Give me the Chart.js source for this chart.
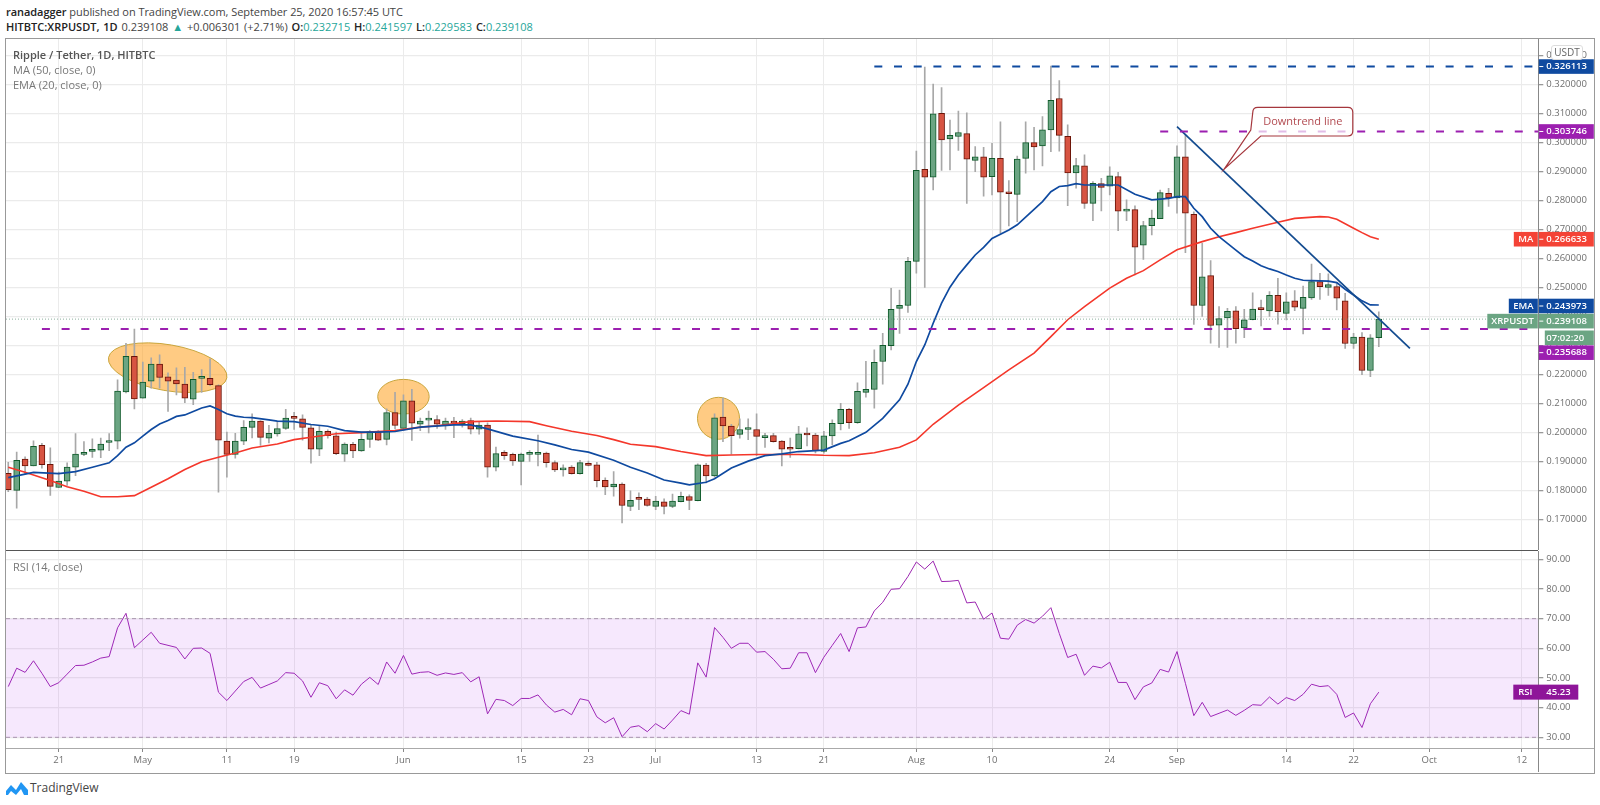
<!DOCTYPE html>
<html>
<head>
<meta charset="utf-8">
<title>XRPUSDT</title>
<script src="https://cdn.jsdelivr.net/npm/chart.js@4/dist/chart.umd.min.js"></script>
<style>
  html, body { margin: 0; padding: 0; background: #fff; width: 1600px; height: 805px; overflow: hidden; font-family: "Open Sans", sans-serif; }
  .abs { position: absolute; white-space: nowrap; }
  canvas { position: absolute; left: 6px; }
  #head1 { left: 6px; top: 3px; font-size: 11px; line-height: 17px; color: #444; letter-spacing: -0.05px; }
  #head2 { left: 6px; top: 18px; font-size: 11px; line-height: 17px; color: #444; word-spacing: 1px; }
  #head1 b, #head2 b { color: #222; font-weight: 600; }
  .teal { color: #26a69a; }
  .legend { left: 13px; font-size: 11px; line-height: 15px; color: #777; }
  #frame { left: 5px; top: 38px; width: 1588px; height: 734px; border: 1px solid #999; pointer-events: none; }
  #divider { left: 6px; top: 550px; width: 1532px; height: 1px; background: #555; }
  #timeline { left: 6px; top: 748px; width: 1588px; height: 1px; background: #aaa; }
  #timeaxis { left: 1538px; top: 748px; width: 1px; height: 24px; background: #888; }
  #unit { left: 1551px; top: 45px; width: 30px; height: 13px; line-height: 13px; text-align: center; background: #fff; border: 1px solid #ddd; border-radius: 3px; font-size: 10px; color: #666; }
  #brand { left: 30px; top: 780px; font-size: 12px; line-height: 16px; color: #444; }
</style>
</head>
<body>
<div class="abs" id="head1"><b>ranadagger</b> published on TradingView.com, September 25, 2020 16:57:45 UTC</div>
<div class="abs" id="head2"><b>HITBTC:XRPUSDT, 1D</b> 0.239108 <span class="teal">▲</span> +0.006301 (+2.71%) <b>O:</b><span class="teal">0.232715</span> <b>H:</b><span class="teal">0.241597</span> <b>L:</b><span class="teal">0.229583</span> <b>C:</b><span class="teal">0.239108</span></div>

<canvas id="priceChart" width="1588" height="511" style="top:39px"></canvas>
<canvas id="rsiChart" width="1588" height="221" style="top:551px"></canvas>

<div class="abs" id="frame"></div>
<div class="abs" id="divider"></div>
<div class="abs" id="timeline"></div>
<div class="abs" id="timeaxis"></div>
<div class="abs" id="unit">USDT</div>
<div class="abs legend" style="top:47px;color:#555;font-weight:600">Ripple / Tether, 1D, HITBTC</div>
<div class="abs legend" style="top:62px">MA (50, close, 0)</div>
<div class="abs legend" style="top:77px">EMA (20, close, 0)</div>
<div class="abs legend" style="top:559px">RSI (14, close)</div>
<svg class="abs" style="left:6px;top:781px" width="23" height="15" viewBox="0 0 23 15">
  <path d="M0 10 L5 4 L10 9 L15 1 L22 9 L22 14 L18 14 L15 8 L10 14 L5 10 L2 14 L0 14 Z" fill="#2196f3"/>
</svg>
<div class="abs" id="brand">TradingView</div>

<script>
// day numbers: 0 is Apr 15, one step per daily candle
const xTickDays = [6, 16, 26, 34, 47, 61, 69, 77, 89, 97, 108, 117, 131, 139, 152, 160, 169, 180];
const xTickLabels = ["21", "May", "11", "19", "Jun", "15", "23", "Jul", "13", "21", "Aug", "10", "24", "Sep", "14", "22", "Oct", "12"];

const opens = [
  0.1860,0.1801,0.1909,0.1885,0.1956,0.1891,0.1811,0.1833,0.1881,0.1925,
  0.1935,0.1940,0.1966,0.1971,0.2140,0.2263,0.2119,0.2177,0.2236,0.2192,
  0.2181,0.2167,0.2115,0.2187,0.2187,0.2162,0.1971,0.1925,0.1971,0.2018,
  0.2040,0.1981,0.1996,0.2015,0.2051,0.2048,0.2017,0.1943,0.2005,0.1989,
  0.1926,0.1960,0.1937,0.1977,0.2004,0.1977,0.2069,0.2015,0.2110,0.2029,
  0.2043,0.2045,0.2027,0.2036,0.2031,0.2042,0.2012,0.2026,0.1881,0.1932,
  0.1925,0.1901,0.1925,0.1925,0.1930,0.1897,0.1872,0.1881,0.1859,0.1894,
  0.1889,0.1836,0.1813,0.1823,0.1746,0.1772,0.1771,0.1746,0.1762,0.1746,
  0.1762,0.1780,0.1766,0.1888,0.1851,0.2054,0.2023,0.1994,0.2011,0.2011,
  0.1983,0.1990,0.1971,0.1946,0.1945,0.1994,0.1992,0.1935,0.1989,0.2031,
  0.2080,0.2034,0.2139,0.2149,0.2245,0.2300,0.2428,0.2438,0.2590,0.2907,
  0.2880,0.3100,0.3012,0.3020,0.3030,0.2938,0.2950,0.2882,0.2945,0.2828,
  0.2821,0.2945,0.2999,0.2988,0.3043,0.3151,0.3021,0.2895,0.2919,0.2790,
  0.2858,0.2849,0.2882,0.2763,0.2768,0.2646,0.2713,0.2737,0.2824,0.2809,
  0.2950,0.2752,0.2438,0.2541,0.2370,0.2395,0.2420,0.2361,0.2389,0.2426,
  0.2419,0.2473,0.2411,0.2454,0.2428,0.2464,0.2520,0.2500,0.2503,0.2454,
  0.2307,0.2329,0.2214,0.232715
];
const highs = [
  0.1898,0.1933,0.1917,0.1972,0.1963,0.1948,0.1864,0.1896,0.1997,0.1969,
  0.1979,0.1981,0.1997,0.2182,0.2308,0.2357,0.2243,0.2258,0.2268,0.2206,
  0.2223,0.2225,0.2208,0.2217,0.2254,0.2165,0.2002,0.1998,0.2042,0.2065,
  0.2042,0.2025,0.2038,0.2080,0.2070,0.2061,0.2027,0.2025,0.2010,0.2002,
  0.1965,0.1967,0.2002,0.2007,0.2007,0.2082,0.2139,0.2130,0.2149,0.2050,
  0.2074,0.2059,0.2050,0.2053,0.2045,0.2050,0.2038,0.2034,0.1950,0.1938,
  0.1930,0.1930,0.1938,0.1992,0.1933,0.1903,0.1889,0.1887,0.1905,0.1902,
  0.1898,0.1844,0.1866,0.1827,0.1800,0.1793,0.1777,0.1781,0.1772,0.1788,
  0.1795,0.1786,0.1893,0.1894,0.2065,0.2119,0.2029,0.2048,0.2048,0.2065,
  0.1998,0.1998,0.1973,0.1981,0.2022,0.2017,0.1998,0.2005,0.2044,0.2101,
  0.2084,0.2172,0.2246,0.2285,0.2342,0.2497,0.2491,0.2604,0.2970,0.3259,
  0.3201,0.3189,0.3077,0.3108,0.3102,0.2985,0.2983,0.2997,0.3071,0.2868,
  0.2953,0.3071,0.3052,0.3089,0.3263,0.3213,0.3060,0.2945,0.2957,0.2865,
  0.2876,0.2916,0.2897,0.2802,0.2781,0.2728,0.2767,0.2836,0.2842,0.2988,
  0.3025,0.2761,0.2652,0.2593,0.2434,0.2428,0.2434,0.2425,0.2482,0.2457,
  0.2486,0.2532,0.2482,0.2489,0.2505,0.2581,0.2549,0.2547,0.2517,0.2480,
  0.2342,0.2345,0.2338,0.241597
];
const lows = [
  0.1797,0.1740,0.1858,0.1885,0.1878,0.1784,0.1811,0.1818,0.1852,0.1921,
  0.1915,0.1914,0.1938,0.1944,0.2137,0.2082,0.2119,0.2153,0.2153,0.2073,
  0.2130,0.2103,0.2096,0.2139,0.2162,0.1795,0.1847,0.1912,0.1959,0.1982,
  0.1956,0.1965,0.1988,0.2011,0.2011,0.1974,0.1895,0.1921,0.1981,0.1924,
  0.1901,0.1914,0.1935,0.1949,0.1972,0.1958,0.2013,0.2015,0.1973,0.2007,
  0.1999,0.2015,0.2011,0.1983,0.2019,0.1996,0.1995,0.1847,0.1868,0.1908,
  0.1887,0.1820,0.1901,0.1885,0.1881,0.1866,0.1850,0.1857,0.1857,0.1885,
  0.1813,0.1786,0.1781,0.1689,0.1731,0.1735,0.1747,0.1735,0.1720,0.1742,
  0.1761,0.1735,0.1765,0.1827,0.1847,0.1969,0.1926,0.1981,0.1976,0.1921,
  0.1949,0.1967,0.1885,0.1915,0.1944,0.1954,0.1930,0.1929,0.1958,0.2009,
  0.2015,0.2032,0.2122,0.2084,0.2167,0.2285,0.2342,0.2414,0.2549,0.2500,
  0.2836,0.2903,0.2905,0.2972,0.2790,0.2899,0.2815,0.2819,0.2687,0.2712,
  0.2727,0.2894,0.2905,0.2919,0.2968,0.2970,0.2782,0.2842,0.2772,0.2730,
  0.2764,0.2819,0.2696,0.2730,0.2543,0.2597,0.2681,0.2737,0.2779,0.2756,
  0.2620,0.2373,0.2400,0.2308,0.2294,0.2294,0.2308,0.2327,0.2388,0.2368,
  0.2400,0.2374,0.2388,0.2420,0.2340,0.2459,0.2459,0.2473,0.2423,0.2290,
  0.2290,0.2200,0.2193,0.229583
];
const closes = [
  0.1804,0.1905,0.1885,0.1953,0.1890,0.1815,0.1833,0.1881,0.1926,0.1928,
  0.1943,0.1961,0.1971,0.2143,0.2263,0.2116,0.2174,0.2236,0.2190,0.2177,
  0.2168,0.2119,0.2184,0.2188,0.2165,0.1974,0.1925,0.1971,0.2018,0.2040,
  0.1984,0.1998,0.2014,0.2050,0.2049,0.2018,0.1943,0.2005,0.1990,0.1928,
  0.1961,0.1937,0.1977,0.2004,0.1974,0.2069,0.2025,0.2110,0.2033,0.2040,
  0.2045,0.2029,0.2040,0.2033,0.2040,0.2012,0.2026,0.1881,0.1928,0.1921,
  0.1903,0.1926,0.1926,0.1930,0.1897,0.1872,0.1878,0.1859,0.1897,0.1887,
  0.1835,0.1813,0.1823,0.1749,0.1767,0.1770,0.1749,0.1764,0.1746,0.1764,
  0.1781,0.1767,0.1889,0.1851,0.2051,0.2023,0.1990,0.2011,0.2012,0.1987,
  0.1990,0.1969,0.1943,0.1943,0.1996,0.1992,0.1938,0.1989,0.2032,0.2080,
  0.2034,0.2142,0.2149,0.2242,0.2301,0.2425,0.2439,0.2590,0.2904,0.2880,
  0.3098,0.3008,0.3024,0.3034,0.2942,0.2950,0.2880,0.2945,0.2828,0.2823,
  0.2942,0.2999,0.2984,0.3043,0.3145,0.3024,0.2895,0.2920,0.2790,0.2859,
  0.2845,0.2885,0.2763,0.2764,0.2639,0.2713,0.2739,0.2827,0.2809,0.2950,
  0.2756,0.2438,0.2537,0.2369,0.2393,0.2418,0.2358,0.2389,0.2426,0.2424,
  0.2473,0.2417,0.2451,0.2432,0.2466,0.2520,0.2503,0.2510,0.2463,0.2307,
  0.2329,0.2214,0.2327,0.239108
];

// moving averages read at the days where the curve bends
const emaDays = [0,3,6,8,10,12,13,14,15,16,17,18,19,20,21,22,23,24,25,26,27,28,29,31,32,34,36,38,40,42,44,46,49,53,55,57,60,63,65,67,69,72,74,76,78,80,81,83,84,86,88,90,92,94,97,99,100,102,104,106,107,108,109,110,111,112,113,114,115,116,117,119,120,122,123,124,125,126,127,128,130,132,134,136,138,139,140,141,142,143,144,145,146,147,148,149,150,151,152,153,154,155,157,158,159,160,161,162,163];
const emaValues = [0.1845,0.1863,0.1859,0.1866,0.1881,0.1896,0.1921,0.1950,0.1965,0.1988,0.2011,0.2030,0.2042,0.2056,0.2061,0.2073,0.2085,0.2092,0.2080,0.2065,0.2057,0.2053,0.2052,0.2044,0.2040,0.2038,0.2028,0.2022,0.2007,0.2002,0.2002,0.2004,0.2019,0.2027,0.2027,0.2013,0.1988,0.1972,0.1958,0.1942,0.1933,0.1905,0.1881,0.1861,0.1837,0.1826,0.1820,0.1829,0.1841,0.1878,0.1902,0.1921,0.1927,0.1935,0.1940,0.1963,0.1972,0.2001,0.2049,0.2113,0.2167,0.2245,0.2302,0.2377,0.2446,0.2501,0.2543,0.2578,0.2612,0.2638,0.2669,0.2698,0.2716,0.2769,0.2796,0.2830,0.2848,0.2851,0.2858,0.2853,0.2853,0.2853,0.2821,0.2802,0.2807,0.2813,0.2813,0.2773,0.2744,0.2704,0.2675,0.2652,0.2629,0.2606,0.2591,0.2575,0.2564,0.2555,0.2543,0.2532,0.2525,0.2524,0.2522,0.2517,0.2494,0.2474,0.2454,0.2440,0.243973];
const maDays = [0,2,5,7,9,11,13,15,17,19,21,23,25,27,29,32,34,36,39,42,46,49,51,55,58,62,64,67,70,72,74,77,80,83,86,89,94,97,100,103,106,108,110,113,116,119,122,124,126,128,131,133,135,137,139,142,144,146,148,151,153,156,157,158,160,161,162,163];
const maValues = [0.1881,0.1864,0.1835,0.1814,0.1798,0.1779,0.1779,0.1783,0.1812,0.1841,0.1873,0.1900,0.1915,0.1930,0.1947,0.1961,0.1976,0.1984,0.1996,0.2000,0.2007,0.2019,0.2024,0.2038,0.2040,0.2038,0.2024,0.2005,0.1990,0.1976,0.1960,0.1952,0.1935,0.1921,0.1923,0.1925,0.1925,0.1922,0.1921,0.1931,0.1950,0.1975,0.2029,0.2095,0.2155,0.2216,0.2274,0.2331,0.2389,0.2434,0.2498,0.2532,0.2558,0.2595,0.2630,0.2658,0.2675,0.2689,0.2704,0.2725,0.2738,0.2744,0.2743,0.2735,0.2704,0.2689,0.2675,0.266633];

const rsiValues = [
  47.1,53.3,51.9,55.8,51.6,47.1,48.4,51.3,54.2,54.3,
  55.4,56.7,57.2,66.9,71.8,60.2,62.8,65.4,61.7,61.0,
  60.3,56.4,60.0,60.1,58.3,45.2,42.4,45.6,48.8,50.2,
  46.6,47.8,49.0,51.8,51.6,49.0,43.5,48.4,47.4,43.0,
  46.0,44.2,47.9,50.2,47.8,55.4,51.6,57.6,51.3,51.9,
  52.1,50.9,51.7,51.2,51.8,48.7,50.4,37.9,42.8,42.4,
  40.7,43.1,43.1,44.3,40.9,38.5,39.4,37.6,43.0,42.4,
  36.9,34.9,36.6,30.2,33.4,33.9,31.9,34.6,32.8,35.8,
  39.0,37.8,55.1,50.3,67.0,63.7,60.0,61.7,61.7,58.7,
  58.9,56.3,53.1,53.3,58.5,58.5,51.8,57.0,61.0,65.0,
  58.9,66.9,67.2,72.6,75.5,79.9,80.1,84.2,89.1,86.7,
  89.4,82.5,82.6,82.9,75.3,75.6,69.8,71.9,63.4,63.1,
  67.8,69.7,68.5,70.8,73.7,65.0,56.9,58.0,50.9,54.0,
  53.4,55.3,48.5,48.5,42.7,47.0,48.3,52.9,52.0,58.9,
  48.2,37.3,41.8,37.0,38.1,39.2,37.4,39.1,41.0,40.8,
  43.6,41.2,43.4,42.4,44.5,47.9,47.1,47.4,44.5,36.7,
  38.2,33.3,41.3,45.23
];

const priceTicks = [0.17,0.18,0.19,0.20,0.21,0.22,0.23,0.24,0.25,0.26,0.27,0.28,0.29,0.30,0.31,0.32,0.33];
const rsiTicks = [30,40,50,60,70,80,90];

const resistanceTop = 0.326113, resistanceTopFrom = 103;
const resistanceMid = 0.303746, resistanceMidFrom = 137;
const supportLevel = 0.235688, supportFrom = 4;
const lastPrice = 0.239108;
const trendDays = [139, 166.7];
const trendPrices = [0.30539, 0.22906];

const xMin = -0.27, xMax = 181.97;
const priceMin = 0.15958, priceMax = 0.3356;
const rsiMin = 26.4, rsiMax = 92.8;

const gridColor = "#ebebeb";
const tickColor = "#6f6f6f";
const upFill = "#6ba583", upLine = "#0f5a2a";
const downFill = "#d75442", downLine = "#6b1408";
const wickColor = "#a8a8a8";
const blue = "#0f4aa0", purple = "#9c1fb0", maRed = "#f4372b";
const axisFont = '"Open Sans", sans-serif';

Chart.defaults.font.family = axisFont;
Chart.defaults.font.size = 9.5;
Chart.defaults.color = tickColor;

const candleDays = closes.map((_, i) => i);
const isUp = closes.map((c, i) => c >= opens[i]);
const levelLine = (value, from, color, dash, width) => ({
  type: "line",
  data: [{ x: from, y: value }, { x: xMax, y: value }],
  borderColor: color,
  borderDash: dash,
  borderWidth: width,
  pointRadius: 0,
  order: 0,
});

function sharedX(showLabels) {
  return {
    type: "linear",
    min: xMin,
    max: xMax,
    offset: false,
    afterBuildTicks: (scale) => {
      scale.ticks = xTickDays.map((value) => ({ value }));
    },
    afterFit: (scale) => {
      scale.height = showLabels ? 24 : 0;
      scale.paddingLeft = 0;
      scale.paddingRight = 0;
    },
    grid: { color: gridColor, offset: false, drawTicks: showLabels, tickLength: 4, tickColor: "#888" },
    border: { display: false },
    ticks: {
      display: showLabels,
      autoSkip: false,
      maxRotation: 0,
      padding: 3,
      callback: (value) => xTickLabels[xTickDays.indexOf(value)],
    },
  };
}

function sharedY(min, max, tickList, decimals) {
  return {
    position: "right",
    min,
    max,
    afterBuildTicks: (scale) => {
      scale.ticks = tickList.map((value) => ({ value }));
    },
    afterFit: (scale) => {
      scale.width = 55.7;
      scale.paddingTop = 0;
      scale.paddingBottom = 0;
    },
    grid: { color: gridColor, lineWidth: 1.3, tickLength: 5, tickColor: "#999" },
    border: { display: true, color: "#888" },
    ticks: { padding: 3, autoSkip: false, callback: (value) => value.toFixed(decimals) },
  };
}

// circled zones and the callout, anchored on day/price values
const zoneDays = [18.96, 47.0, 84.47];
const zonePrices = [0.22238, 0.21239, 0.20495];
const zoneDayRadius = [7.14, 3.06, 2.5];
const zonePriceRadius = [0.00792, 0.00596, 0.00723];
const zoneTilt = [0.17, 0, 0];
const calloutDay = 144.6, calloutPrice = 0.29072;
const calloutText = "Downtrend line";

const tagValues = [0.326113, 0.303746, 0.266633, 0.243973, 0.239108, 0.235688];
const tagText = ["0.326113", "0.303746", "0.266633", "0.243973", "0.239108", "0.235688"];
const tagNames = ["", "", "MA", "EMA", "XRPUSDT", ""];
const tagColors = [blue, purple, "#f44336", blue, upFill, purple];
const tagShift = [0, 0, 0, 1, 2, 23.6];

function drawTag(ctx, area, y, text, name, color, nameWidth) {
  ctx.fillStyle = color;
  ctx.fillRect(area.right + 0.5, y - 7.3, 55, 14.6);
  if (name) ctx.fillRect(area.right - nameWidth - 0.5, y - 7.3, nameWidth, 14.6);
  ctx.fillStyle = "#fff";
  ctx.font = "600 9.5px " + axisFont;
  ctx.textBaseline = "middle";
  ctx.textAlign = "left";
  ctx.fillText(text, area.right + 8, y);
  ctx.fillRect(area.right + 1, y - 0.5, 4, 1);
  if (name) {
    ctx.textAlign = "center";
    ctx.fillText(name, area.right - nameWidth / 2 - 0.5, y);
  }
}

const priceOverlay = {
  id: "priceOverlay",
  beforeDatasetsDraw(chart) {
    const { ctx, scales } = chart;
    const { x, y } = scales;
    ctx.save();
    zoneDays.forEach((day, i) => {
      const cx = x.getPixelForValue(day);
      const cy = y.getPixelForValue(zonePrices[i]);
      const rx = x.getPixelForValue(day + zoneDayRadius[i]) - cx;
      const ry = cy - y.getPixelForValue(zonePrices[i] + zonePriceRadius[i]);
      ctx.beginPath();
      ctx.ellipse(cx, cy, rx, ry, zoneTilt[i], 0, Math.PI * 2);
      ctx.fillStyle = "rgba(255, 160, 30, 0.55)";
      ctx.strokeStyle = "#c8a53c";
      ctx.lineWidth = 1;
      ctx.fill();
      ctx.stroke();
    });
    ctx.restore();
  },
  afterDraw(chart) {
    const { ctx, scales, chartArea } = chart;
    const { x, y } = scales;
    ctx.save();
    const tipX = x.getPixelForValue(calloutDay);
    const tipY = y.getPixelForValue(calloutPrice);
    const left = tipX + 28.7, top = tipY - 62, w = 100, h = 28.7, r = 5;
    ctx.beginPath();
    ctx.moveTo(left + r, top);
    ctx.lineTo(left + w - r, top);
    ctx.quadraticCurveTo(left + w, top, left + w, top + r);
    ctx.lineTo(left + w, top + h - r);
    ctx.quadraticCurveTo(left + w, top + h, left + w - r, top + h);
    ctx.lineTo(left + 8, top + h);
    ctx.lineTo(tipX, tipY);
    ctx.lineTo(left - 2, top + h - 6);
    ctx.lineTo(left, top + r);
    ctx.quadraticCurveTo(left, top, left + r, top);
    ctx.closePath();
    ctx.fillStyle = "rgba(255, 255, 255, 0.7)";
    ctx.strokeStyle = "#a5373d";
    ctx.lineWidth = 1.2;
    ctx.fill();
    ctx.stroke();
    ctx.fillStyle = "#b24a50";
    ctx.font = "11px " + axisFont;
    ctx.textAlign = "center";
    ctx.textBaseline = "middle";
    ctx.fillText(calloutText, left + w / 2, top + h / 2);

    const nameWidths = [0, 0, 24, 29, 50.5, 0];
    tagValues.forEach((value, i) => {
      drawTag(ctx, chartArea, y.getPixelForValue(value) + tagShift[i], tagText[i], tagNames[i], tagColors[i], nameWidths[i]);
    });
    // countdown below the last price tag
    ctx.fillStyle = upFill;
    ctx.fillRect(chartArea.right + 6.5, 291.5, 49, 14.5);
    ctx.fillStyle = "#fff";
    ctx.font = "600 9.5px " + axisFont;
    ctx.textAlign = "left";
    ctx.fillText("07:02:20", chartArea.right + 8, 299);
    ctx.restore();
  },
};

new Chart(document.getElementById("priceChart"), {
  type: "bar",
  data: {
    datasets: [
      {
        data: candleDays.map((d, i) => ({ x: d, y: [opens[i], closes[i]] })),
        backgroundColor: isUp.map((u) => (u ? upFill : downFill)),
        borderColor: isUp.map((u) => (u ? upLine : downLine)),
        borderWidth: 1,
        borderSkipped: false,
        barThickness: 6,
        minBarLength: 2,
        grouped: false,
        order: 2,
      },
      {
        data: candleDays.map((d, i) => ({ x: d, y: [lows[i], highs[i]] })),
        backgroundColor: wickColor,
        barThickness: 1,
        grouped: false,
        order: 3,
      },
      {
        type: "line",
        data: maDays.map((d, i) => ({ x: d, y: maValues[i] })),
        borderColor: maRed,
        borderWidth: 1.6,
        pointRadius: 0,
        order: 1,
      },
      {
        type: "line",
        data: emaDays.map((d, i) => ({ x: d, y: emaValues[i] })),
        borderColor: blue,
        borderWidth: 1.7,
        pointRadius: 0,
        order: 0.9,
      },
      levelLine(lastPrice, xMin, "rgba(90, 140, 115, 0.7)", [1, 2], 1),
      levelLine(resistanceTop, resistanceTopFrom, blue, [8, 11.7], 2),
      levelLine(resistanceMid, resistanceMidFrom, purple, [8, 11.7], 2),
      levelLine(supportLevel, supportFrom, purple, [8, 11.7], 2),
      {
        type: "line",
        data: trendDays.map((d, i) => ({ x: d, y: trendPrices[i] })),
        borderColor: "#134b8f",
        borderWidth: 1.7,
        pointRadius: 0,
        order: 0,
      },
    ],
  },
  plugins: [priceOverlay],
  options: {
    responsive: false,
    animation: false,
    devicePixelRatio: 1,
    layout: { autoPadding: false, padding: 0 },
    plugins: { legend: { display: false }, tooltip: { enabled: false } },
    scales: { x: sharedX(false), y: sharedY(priceMin, priceMax, priceTicks, 6) },
  },
});

const rsiTagValue = 45.23;
const bandEdge = (value, fill) => ({
  data: [{ x: xMin, y: value }, { x: xMax, y: value }],
  borderColor: "#a896ad",
  borderWidth: 1,
  borderDash: [4, 3],
  pointRadius: 0,
  fill,
  backgroundColor: "rgba(170, 50, 240, 0.11)",
});

const rsiOverlay = {
  id: "rsiOverlay",
  afterDraw(chart) {
    const { ctx, scales, chartArea } = chart;
    ctx.save();
    const y = scales.y.getPixelForValue(rsiTagValue);
    ctx.fillStyle = "#8e1599";
    ctx.fillRect(chartArea.right - 25, y - 7.5, 65, 15);
    ctx.fillStyle = "#fff";
    ctx.font = "600 9.5px " + axisFont;
    ctx.textBaseline = "middle";
    ctx.textAlign = "center";
    ctx.fillText("RSI", chartArea.right - 13, y);
    ctx.textAlign = "left";
    ctx.fillText("45.23", chartArea.right + 8, y);
    ctx.restore();
  },
};

new Chart(document.getElementById("rsiChart"), {
  type: "line",
  data: {
    datasets: [
      bandEdge(70, "+1"),
      bandEdge(30, false),
      {
        data: candleDays.map((d, i) => ({ x: d, y: rsiValues[i] })),
        borderColor: "#9c27b0",
        borderWidth: 1,
        pointRadius: 0,
        fill: false,
      },
    ],
  },
  plugins: [rsiOverlay],
  options: {
    responsive: false,
    animation: false,
    devicePixelRatio: 1,
    layout: { autoPadding: false, padding: 0 },
    plugins: { legend: { display: false }, tooltip: { enabled: false } },
    scales: { x: sharedX(true), y: sharedY(rsiMin, rsiMax, rsiTicks, 2) },
  },
});
</script>
</body>
</html>
